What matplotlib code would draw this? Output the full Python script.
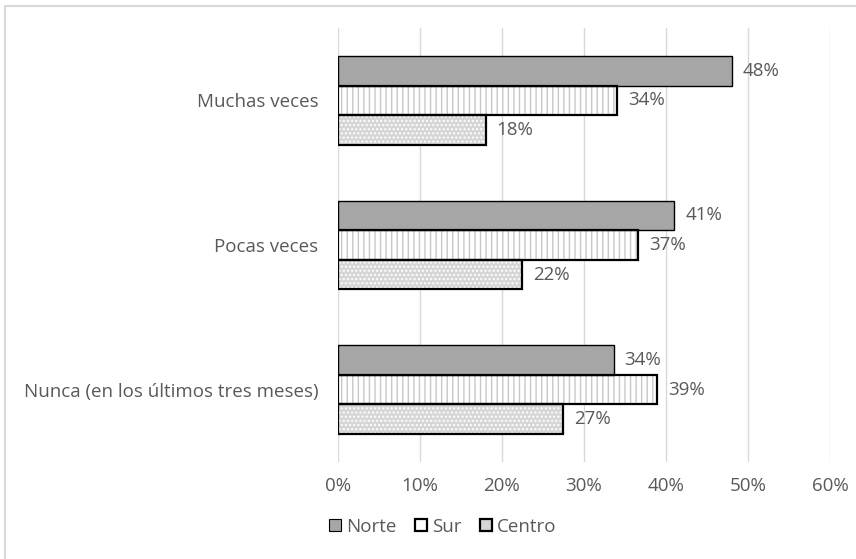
import matplotlib
matplotlib.use("Agg")
import matplotlib.pyplot as plt
from matplotlib.patches import Rectangle, Patch
import numpy as np

categories = ["Muchas veces", "Pocas veces", "Nunca (en los últimos tres meses)"]
series = ["Norte", "Sur", "Centro"]
norte = [48.0, 41.0, 33.6]
sur = [34.0, 36.6, 38.9]
centro = [18.0, 22.4, 27.4]
xticks = [0, 10, 20, 30, 40, 50, 60]
xtick_labels = ["0%", "10%", "20%", "30%", "40%", "50%", "60%"]

plt.rcParams['font.family'] = ['Open Sans', 'DejaVu Sans']
txt = '#595959'
fs = 13.5
W, H = 856, 559
fig = plt.figure(figsize=(W / 100, H / 100), dpi=100)
ax = fig.add_axes([338 / W, (H - 462) / H, 492 / W, 434 / H])

# figure border (top/left visible)
fig.patches.append(Rectangle((5 / W, -0.1), 2, (H - 6) / H + 0.1, transform=fig.transFigure,
                             fill=False, edgecolor='#d9d9d9', linewidth=1.5, zorder=0))

y = np.arange(len(categories))
h = 0.204
styles = [
    dict(face='#a6a6a6', hatch=None, hc=None, lw=1.0),
    dict(face='white', hatch='|||', hc='#c8c8c8', lw=1.6),
    dict(face='#d6d6d6', hatch='....', hc='white', lw=1.6),
]
data = [norte, sur, centro]
offsets = [-h, 0, h]
for vals, st, off in zip(data, styles, offsets):
    if st['hatch']:
        ax.barh(y + off, vals, height=h, color=st['face'], edgecolor=st['hc'],
                hatch=st['hatch'], linewidth=0, zorder=2)
        ax.barh(y + off, vals, height=h, fill=False, edgecolor='black',
                linewidth=st['lw'], zorder=3)
    else:
        ax.barh(y + off, vals, height=h, color=st['face'], edgecolor='black',
                linewidth=st['lw'], zorder=3)
    for yi, v in zip(y, vals):
        ax.annotate(f"{int(v + 0.5):d}%", (v, yi + off), xytext=(8, 0), textcoords='offset points',
                    va='center', ha='left', fontsize=fs, color=txt)

ax.set_xlim(0, 60)
ax.set_ylim(2.5, -0.5)
ax.set_xticks(xticks)
ax.set_xticklabels(xtick_labels)
ax.set_yticks(y)
ax.set_yticklabels(categories)
ax.tick_params(length=0, colors=txt, labelsize=fs)
ax.tick_params(axis='x', pad=11)
ax.tick_params(axis='y', pad=14)
ax.grid(axis='x', color='#d9d9d9', linewidth=1, zorder=0)
ax.set_axisbelow(True)
for s in ax.spines.values():
    s.set_visible(False)

handles = [
    Patch(facecolor='#a6a6a6', edgecolor='black', linewidth=0.8),
    Patch(facecolor='white', edgecolor='black', linewidth=1.6),
    Patch(facecolor='#d6d6d6', edgecolor='black', linewidth=1.6),
]
fig.legend(handles, series, loc='center', bbox_to_anchor=(443 / W, 1 - 527 / H), ncol=3,
           frameon=False, fontsize=fs, labelcolor=txt, handlelength=0.6, handleheight=0.6,
           handletextpad=0.3, columnspacing=1.0)

fig.savefig('out.png', dpi=100)
